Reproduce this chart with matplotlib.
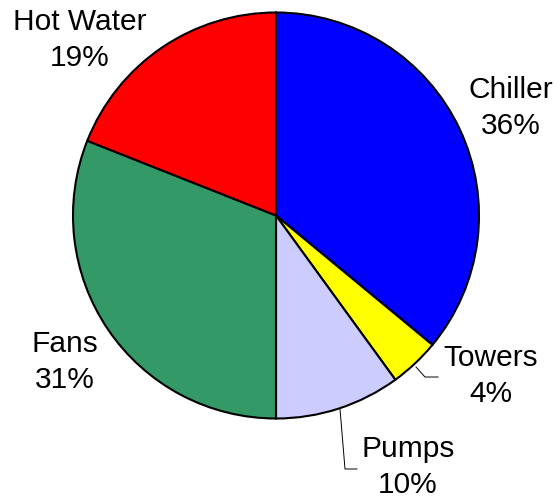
import matplotlib
matplotlib.use("Agg")
import matplotlib.pyplot as plt

categories = ["Chiller", "Towers", "Pumps", "Fans", "Hot Water"]
values = [36, 4, 10, 31, 19]
colors = ["#0000FF", "#FFFF00", "#CCCCFF", "#339966", "#FF0000"]

W, H = 559, 502
cx, cy, r = 276, 216.5, 203

fig = plt.figure(figsize=(W / 100, H / 100), dpi=100)
ax = fig.add_axes([(cx - r) / W, 1 - (cy + r) / H, 2 * r / W, 2 * r / H])
ax.pie(values, colors=colors, startangle=90, counterclock=False,
       wedgeprops=dict(edgecolor="black", linewidth=1.5))
ax.set_xlim(-1, 1)
ax.set_ylim(-1, 1)
ax.set_aspect("equal")
ax.axis("off")

def d(px, py):
    return ((px - cx) / r, (cy - py) / r)

label_pos = {
    "Chiller": (511, 108),
    "Towers": (491, 376),
    "Pumps": (408, 467),
    "Fans": (65, 362),
    "Hot Water": (80, 40),
}
for cat, v in zip(categories, values):
    x, y = d(*label_pos[cat])
    ax.text(x, y, f"{cat}\n{v}%", ha="center", va="center", fontsize=21.5,
            family=["Liberation Sans", "DejaVu Sans"], linespacing=1.32,
            clip_on=False)

leaders = {
    "Towers": [(416, 368), (425, 378), (438, 378)],
    "Pumps": [(340, 410), (345, 470), (357, 470)],
}
for pts in leaders.values():
    xs, ys = zip(*[d(*p) for p in pts])
    ax.plot(xs, ys, color="black", linewidth=0.7, clip_on=False)

fig.savefig("out.png", dpi=100)
